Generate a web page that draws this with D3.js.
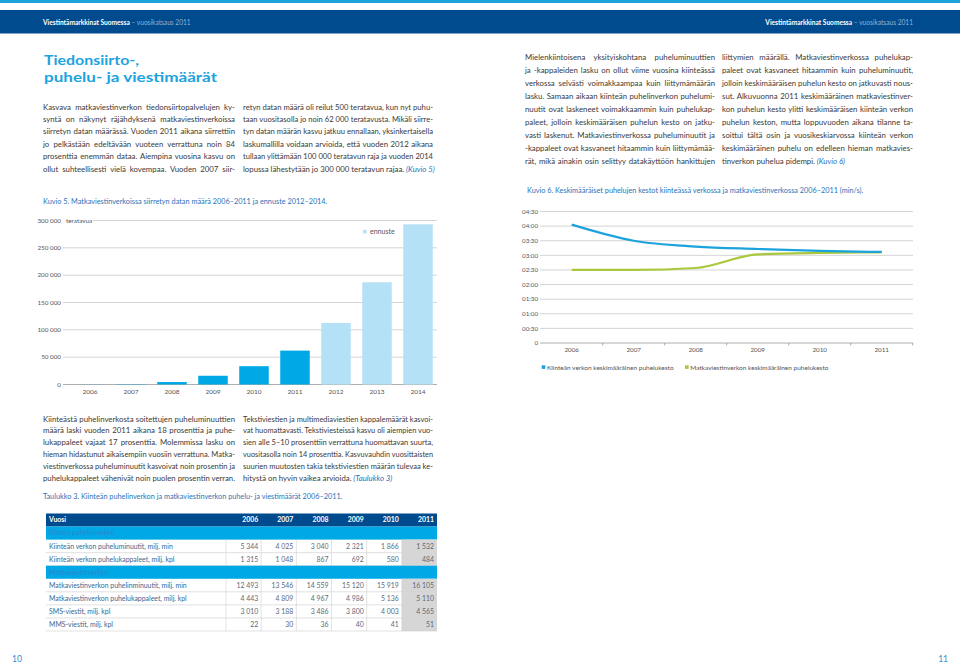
<!DOCTYPE html>
<html><head><meta charset="utf-8">
<script src="https://cdn.jsdelivr.net/npm/d3@7"></script>
<style>
html,body{margin:0;padding:0;background:#fff;}
svg{display:block;}
text{font-family:Lato,"Open Sans",sans-serif;}
</style></head><body>
<svg id="page" width="960" height="664"></svg>
<script>
// ---------- DATA ----------
const headerTitle = "Viestintämarkkinat Suomessa";
const headerSub = " – vuosikatsaus 2011";
const pageTitle = ["Tiedonsiirto-,", "puhelu- ja viestimäärät"];

// Kuvio 5
const barYears = ["2006","2007","2008","2009","2010","2011","2012","2013","2014"];
const barValues = [150, 550, 4500, 16000, 33500, 62000, 112500, 187000, 293000];
const barForecast = [false,false,false,false,false,false,true,true,true];
const barTicks = [0, 50000, 100000, 150000, 200000, 250000, 300000];
const barUnit = "teratavua";
const barLegend = "ennuste";
const caption5 = "Kuvio 5. Matkaviestinverkoissa siirretyn datan määrä 2006–2011 ja ennuste 2012–2014.";

// Kuvio 6 (seconds)
const lineYears = ["2006","2007","2008","2009","2010","2011"];
const fixedDuration = [243, 210, 198, 193, 189, 187];
const mobileDuration = [150, 150, 154, 182, 185, 186];
const lineTicks = [0, 30, 60, 90, 120, 150, 180, 210, 240, 270];
const lineNames = ["Kiinteän verkon keskimääräinen puhelukesto", "Matkaviestinverkon keskimääräinen puhelukesto"];
const caption6 = "Kuvio 6. Keskimääräiset puhelujen kestot kiinteässä verkossa ja matkaviestinverkossa 2006–2011 (min/s).";

// Taulukko 3
const caption3 = "Taulukko 3. Kiinteän puhelinverkon ja matkaviestinverkon puhelu- ja viestimäärät 2006–2011.";
const tableYears = ["2006","2007","2008","2009","2010","2011"];
const fixedMinutes = [5344, 4025, 3040, 2321, 1866, 1532];
const fixedCalls = [1315, 1048, 867, 692, 580, 484];
const mobileMinutes = [12493, 13546, 14559, 15120, 15919, 16105];
const mobileCalls = [4443, 4809, 4967, 4986, 5136, 5110];
const smsCount = [3010, 3188, 3486, 3800, 4003, 4565];
const mmsCount = [22, 30, 36, 40, 41, 51];

// Body text
const para1 = ["Kasvava matkaviestinverkon tiedonsiirtopalvelujen ky-",
"syntä on näkynyt räjähdyksenä matkaviestinverkoissa",
"siirretyn datan määrässä. Vuoden 2011 aikana siirrettiin",
"jo pelkästään edeltävään vuoteen verrattuna noin 84",
"prosenttia enemmän dataa. Aiempina vuosina kasvu on",
"ollut suhteellisesti vielä kovempaa. Vuoden 2007 siir-"];
const para2 = ["retyn datan määrä oli reilut 500 teratavua, kun nyt puhu-",
"taan vuositasolla jo noin 62 000 teratavusta. Mikäli siirre-",
"tyn datan määrän kasvu jatkuu ennallaan, yksinkertaisella",
"laskumallilla voidaan arvioida, että vuoden 2012 aikana",
"tullaan ylittämään 100 000 teratavun raja ja vuoden 2014",
"lopussa lähestytään jo 300 000 teratavun rajaa."];
const para3 = ["Mielenkiintoisena yksityiskohtana puheluminuuttien",
"ja -kappaleiden lasku on ollut viime vuosina kiinteässä",
"verkossa selvästi voimakkaampaa kuin liittymämäärän",
"lasku. Samaan aikaan kiinteän puhelinverkon puhelumi-",
"nuutit ovat laskeneet voimakkaammin kuin puhelukap-",
"paleet, jolloin keskimääräisen puhelun kesto on jatku-",
"vasti laskenut. Matkaviestinverkossa puheluminuutit ja",
"-kappaleet ovat kasvaneet hitaammin kuin liittymämää-",
"rät, mikä ainakin osin selittyy datakäyttöön hankittujen"];
const para4 = ["liittymien määrällä. Matkaviestinverkossa puhelukap-",
"paleet ovat kasvaneet hitaammin kuin puheluminuutit,",
"jolloin keskimääräisen puhelun kesto on jatkuvasti nous-",
"sut. Alkuvuonna 2011 keskimääräinen matkaviestinver-",
"kon puhelun kesto ylitti keskimääräisen kiinteän verkon",
"puhelun keston, mutta loppuvuoden aikana tilanne ta-",
"soittui tältä osin ja vuosikeskiarvossa kiinteän verkon",
"keskimääräinen puhelu on edelleen hieman matkavies-",
"tinverkon puhelua pidempi."];
const para5 = ["Kiinteästä puhelinverkosta soitettujen puheluminuuttien",
"määrä laski vuoden 2011 aikana 18 prosenttia ja puhe-",
"lukappaleet vajaat 17 prosenttia. Molemmissa lasku on",
"hieman hidastunut aikaisempiin vuosiin verrattuna. Matka-",
"viestinverkossa puheluminuutit kasvoivat noin prosentin ja",
"puhelukappaleet vähenivät noin puolen prosentin verran."];
const para6 = ["Tekstiviestien ja multimediaviestien kappalemäärät kasvoi-",
"vat huomattavasti. Tekstiviesteissä kasvu oli aiempien vuo-",
"sien alle 5–10 prosenttiin verrattuna huomattavan suurta,",
"vuositasolla noin 14 prosenttia. Kasvuvauhdin vuosittaisten",
"suurien muutosten takia tekstiviestien määrän tulevaa ke-",
"hitystä on hyvin vaikea arvioida."];

// ---------- STYLE ----------
const DARK = "#004b8d", CYAN = "#00a9e6", LIGHT = "#b5e1f6", GREEN = "#a9c83c", LINEBLUE = "#1ca2dc";
const BODY_FS = 7.8, BODY_COL = "#3a3a3a", CAP_COL = "#2a73b8";
const fmtNum = d3.formatLocale({decimal:",", thousands:"\u00a0", grouping:[3], currency:["",""]}).format(",d");
const fmtTime = s => s === 0 ? "0" : d3.format("02d")(Math.floor(s/60)) + ":" + d3.format("02d")(s%60);

const svg = d3.select("#page");

// ---------- HEADER ----------
svg.append("rect").attr("x",0).attr("y",0).attr("width",960).attr("height",3).attr("fill","#1ea2dc");
svg.append("rect").attr("x",0).attr("y",10).attr("width",960).attr("height",23.5).attr("fill",DARK);
[[43,"start"],[913,"end"]].forEach(([x,a]) => {
  const t = svg.append("text").attr("x",x).attr("y",24.5).attr("text-anchor",a).attr("font-size",6.6);
  t.append("tspan").attr("font-weight","bold").attr("fill","#fff").text(headerTitle);
  t.append("tspan").attr("fill","#8fb2d6").text(headerSub);
});
svg.append("text").attr("x",12).attr("y",662).attr("font-size",8.5).attr("fill","#2a90d4").text("10");
svg.append("text").attr("x",948).attr("y",662).attr("text-anchor","end").attr("font-size",8.5).attr("fill","#2a90d4").text("11");

// ---------- TITLE ----------
const titleWidths = [95, 173];
pageTitle.forEach((s,i) => svg.append("text").attr("x",44).attr("y",64.5 + i*17)
  .attr("font-weight","bold").attr("font-size",13.8)
  .attr("textLength", titleWidths[i]).attr("lengthAdjust","spacingAndGlyphs")
  .attr("fill","#1ca3e0").text(s));

// ---------- PARAGRAPHS ----------
function justify(t, w) {
  const L = t.node().getComputedTextLength();
  const n = (t.text().match(/ /g) || []).length;
  if (L > w) t.attr("textLength", w).attr("lengthAdjust", "spacingAndGlyphs");
  else if (n > 0) t.style("word-spacing", ((w - L) / n) + "px");
}
function paragraph(lines, x, y0, lh, w, justifyLast, tail) {
  lines.forEach((ln, i) => {
    const last = i === lines.length - 1;
    const t = svg.append("text").attr("x", x).attr("y", y0 + i * lh)
      .attr("font-size", BODY_FS).attr("fill", BODY_COL);
    t.append("tspan").text(ln);
    if (last && tail) t.append("tspan").attr("font-style","italic").attr("fill", CAP_COL).text(" " + tail);
    if (!last || justifyLast) justify(t, w);
  });
}
paragraph(para1, 43, 109.5, 12.4, 192, true);
paragraph(para2, 243, 109.5, 12.4, 190, false, "(Kuvio 5)");
paragraph(para3, 525, 60, 12.95, 190, true);
paragraph(para4, 722, 60, 12.95, 191, false, "(Kuvio 6)");
paragraph(para5, 43, 421.5, 11.9, 192, true);
paragraph(para6, 243, 421.5, 11.9, 190, false, "(Taulukko 3)");

// ---------- KUVIO 5 ----------
svg.append("text").attr("x",43).attr("y",203.5).attr("font-size",7.3).attr("fill",CAP_COL).text(caption5);
const bx = d3.scaleBand().domain(barYears).range([69.5, 438.5]).paddingInner(0.28).paddingOuter(0.14);
const by = d3.scaleLinear().domain([0, 300000]).range([384.5, 220.5]);
const g5 = svg.append("g");
barTicks.forEach(t => {
  g5.append("line").attr("x1", t === 300000 ? 93 : 63).attr("x2", 437)
    .attr("y1", by(t)).attr("y2", by(t))
    .attr("stroke", t === 0 ? "#9a9a9a" : "#c9c9c9").attr("stroke-width", 0.8);
  g5.append("text").attr("x", 61).attr("y", by(t) + 2.2).attr("text-anchor","end")
    .attr("font-size", 6.3).attr("fill","#555").text(fmtNum(t));
});
g5.append("text").attr("x", 66).attr("y", by(300000) + 2.2).attr("font-size", 6.3).attr("fill","#555").text(barUnit);
g5.selectAll("rect.bar").data(barYears).join("rect").attr("class","bar")
  .attr("x", d => bx(d)).attr("width", bx.bandwidth())
  .attr("y", (d,i) => by(barValues[i])).attr("height", (d,i) => by(0) - by(barValues[i]))
  .attr("fill", (d,i) => barForecast[i] ? LIGHT : CYAN);
g5.selectAll("text.yr").data(barYears).join("text").attr("class","yr")
  .attr("x", d => bx(d) + bx.bandwidth()/2).attr("y", 394).attr("text-anchor","middle")
  .attr("font-size", 6.5).attr("fill","#555").text(d => d);
g5.append("rect").attr("x", 363).attr("y", 229.8).attr("width", 3.6).attr("height", 3.6).attr("fill", LIGHT);
g5.append("text").attr("x", 370).attr("y", 234).attr("font-size", 7).attr("fill","#555").text(barLegend);

// ---------- KUVIO 6 ----------
svg.append("text").attr("x",527).attr("y",192.5).attr("font-size",7.3).attr("fill",CAP_COL).text(caption6);
const lx = d3.scaleBand().domain(lineYears).range([540.7, 912.7]);
const ly = d3.scaleLinear().domain([0, 270]).range([343, 211.5]);
const g6 = svg.append("g");
lineTicks.forEach(t => {
  g6.append("line").attr("x1", 540).attr("x2", 913).attr("y1", ly(t)).attr("y2", ly(t))
    .attr("stroke", t === 0 ? "#9a9a9a" : "#c9c9c9").attr("stroke-width", 0.8);
  g6.append("text").attr("x", 538).attr("y", ly(t) + 2.2).attr("text-anchor","end")
    .attr("font-size", 6.2).attr("fill","#555").text(fmtTime(t));
});
lineYears.forEach(y => {
  const xe = lx(y) + lx.bandwidth();
  g6.append("line").attr("x1", xe).attr("x2", xe).attr("y1", ly(0)).attr("y2", ly(0) + 2.5)
    .attr("stroke", "#9a9a9a").attr("stroke-width", 0.8);
  g6.append("text").attr("x", lx(y) + lx.bandwidth()/2).attr("y", 352).attr("text-anchor","middle")
    .attr("font-size", 6.3).attr("fill","#555").text(y);
});
const lineGen = vals => d3.line().curve(d3.curveMonotoneX)
  .x((d,i) => lx(lineYears[i]) + lx.bandwidth()/2).y(d => ly(d))(vals);
g6.append("path").attr("d", lineGen(mobileDuration)).attr("fill","none").attr("stroke", GREEN).attr("stroke-width", 2.2);
g6.append("path").attr("d", lineGen(fixedDuration)).attr("fill","none").attr("stroke", LINEBLUE).attr("stroke-width", 2.2);
[[541.7, LINEBLUE, lineNames[0]], [685, GREEN, lineNames[1]]].forEach(([x,c,n]) => {
  g6.append("rect").attr("x", x).attr("y", 365.3).attr("width", 3.6).attr("height", 3.6).attr("fill", c);
  g6.append("text").attr("x", x + 5.3).attr("y", 369.6).attr("font-size", 6.5).attr("fill","#555").text(n);
});

// ---------- TAULUKKO 3 ----------
svg.append("text").attr("x",43).attr("y",499).attr("font-size",7.3).attr("fill",CAP_COL).text(caption3);
const rowsDef = [
  {type:"header", label:"Vuosi"},
  {type:"section", label:"Kiinteä puhelinverkko"},
  {type:"data", label:"Kiinteän verkon puheluminuutit, milj. min", values: fixedMinutes},
  {type:"data", label:"Kiinteän verkon puhelukappaleet, milj. kpl", values: fixedCalls},
  {type:"section", label:"Matkaviestinverkko"},
  {type:"data", label:"Matkaviestinverkon puhelinminuutit, milj. min", values: mobileMinutes},
  {type:"data", label:"Matkaviestinverkon puhelukappaleet, milj. kpl", values: mobileCalls},
  {type:"data", label:"SMS-viestit, milj. kpl", values: smsCount},
  {type:"data", label:"MMS-viestit, milj. kpl", values: mmsCount}
];
const tx0 = 46, tx1 = 437, tLab = 226;
const ry = d3.scaleBand().domain(d3.range(rowsDef.length)).range([513.5, 631]);
const cx = d3.scaleBand().domain(tableYears).range([tLab, tx1]);
const gt = svg.append("g");
rowsDef.forEach((r, i) => {
  const y = ry(i), h = ry.bandwidth(), mid = y + h/2 + 2.4;
  if (r.type === "header") {
    gt.append("rect").attr("x", tx0).attr("y", y).attr("width", tx1 - tx0).attr("height", h).attr("fill", DARK);
    gt.append("text").attr("x", tx0 + 3).attr("y", mid).attr("font-size", 6.9).attr("font-weight","bold").attr("fill","#fff").text(r.label);
    tableYears.forEach(yr => gt.append("text").attr("x", cx(yr) + cx.bandwidth() - 3).attr("y", mid)
      .attr("text-anchor","end").attr("font-size", 6.9).attr("font-weight","bold").attr("fill","#fff").text(yr));
  } else if (r.type === "section") {
    gt.append("rect").attr("x", tx0).attr("y", y).attr("width", tx1 - tx0).attr("height", h).attr("fill", CYAN);
    gt.append("text").attr("x", tx0 + 3).attr("y", mid).attr("font-size", 6.9).attr("fill","#2d86cc").text(r.label);
  } else {
    gt.append("rect").attr("x", cx("2011")).attr("y", y).attr("width", cx.bandwidth()).attr("height", h).attr("fill", "#d6d6d6");
    gt.append("text").attr("x", tx0 + 3).attr("y", mid).attr("font-size", 6.9).attr("fill","#3a6892").text(r.label);
    tableYears.forEach((yr, j) => {
      gt.append("line").attr("x1", cx(yr)).attr("x2", cx(yr)).attr("y1", y).attr("y2", y + h)
        .attr("stroke", "#d0d0d0").attr("stroke-width", 0.6);
      gt.append("text").attr("x", cx(yr) + cx.bandwidth() - 3).attr("y", mid).attr("text-anchor","end")
        .attr("font-size", 6.9).attr("fill","#5a6a7a").text(fmtNum(r.values[j]));
    });
    gt.append("line").attr("x1", tx0).attr("x2", tx1).attr("y1", y + h).attr("y2", y + h)
      .attr("stroke", "#cccccc").attr("stroke-width", 0.6);
  }
});
</script>
</body></html>
